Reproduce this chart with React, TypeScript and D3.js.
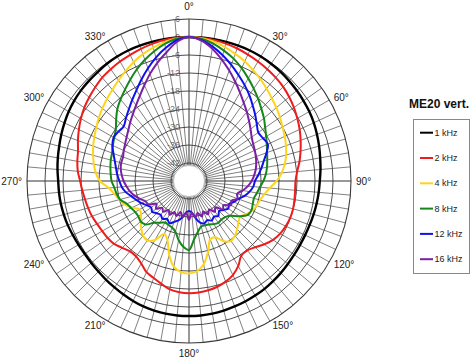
import React from 'react';
import * as d3 from 'd3';

const ANGLES = [0,5,10,15,20,25,30,35,40,45,50,55,60,65,70,75,80,85,90,95,100,105,110,115,120,125,130,135,140,145,150,155,160,165,170,175,180,185,190,195,200,205,210,215,220,225,230,235,240,245,250,255,260,265,270,275,280,285,290,295,300,305,310,315,320,325,330,335,340,345,350,355];

const khz1 = [0,0,0,0,0,0,-0.1,-0.3,-0.5,-0.8,-1.1,-1.4,-1.7,-2.1,-2.6,-3.1,-3.6,-4.0,-4.4,-4.6,-4.8,-5.0,-5.2,-5.3,-5.3,-5.2,-5.0,-4.7,-4.4,-4.1,-3.9,-3.7,-3.5,-3.3,-3.1,-3.0,-3.0,-3.0,-3.1,-3.3,-3.5,-3.9,-4.3,-4.7,-5.0,-5.3,-5.5,-5.6,-5.5,-5.3,-5.0,-4.8,-4.6,-4.5,-4.4,-4.0,-3.6,-3.2,-2.7,-2.2,-1.7,-1.3,-1.0,-0.8,-0.6,-0.3,-0.1,0,0,0,0,0];
const khz2 = [0,-0.1,-0.3,-0.6,-1.0,-1.5,-2.0,-2.5,-3.0,-3.6,-4.4,-5.3,-6.3,-7.3,-8.4,-9.5,-10.6,-11.8,-12.5,-12.5,-12.3,-12.1,-12.1,-12.4,-12.9,-13.8,-15.2,-16.8,-17.8,-17.6,-15.2,-13.4,-12.3,-11.5,-11.0,-10.7,-10.6,-10.8,-11.3,-12.5,-13.6,-14.5,-16.2,-17.3,-17.4,-16.5,-15.4,-14.9,-14.6,-14.2,-13.6,-13.2,-12.8,-12.3,-11.7,-10.8,-10.2,-9.7,-8.6,-7.5,-6.4,-5.4,-4.6,-3.8,-3.0,-2.5,-2.0,-1.6,-1.1,-0.7,-0.3,-0.1];
const khz4 = [0,-0.2,-0.8,-1.8,-2.9,-4.0,-5.3,-6.5,-7.8,-9.0,-10.0,-11.0,-12.0,-12.8,-13.6,-14.5,-15.6,-17.0,-18.8,-21.0,-22.5,-23.5,-24.0,-24.7,-26.0,-27.2,-26.5,-25.3,-24.2,-23.6,-24.8,-27.3,-27.3,-23.5,-19.8,-17.8,-17.2,-17.5,-19.0,-22.5,-27.0,-28.5,-25.3,-23.8,-24.2,-25.5,-27.0,-28.5,-29.0,-27.0,-25.2,-24.0,-22.8,-21.2,-18.3,-16.8,-15.8,-14.9,-14.0,-13.2,-12.3,-11.3,-10.3,-9.3,-8.3,-7.0,-5.7,-4.3,-3.0,-2.0,-1.0,-0.3];
const khz8 = [0,-0.4,-1.5,-3.0,-4.6,-6.5,-8.5,-10.4,-12.2,-13.9,-15.4,-17.0,-18.3,-19.4,-20.3,-21.0,-21.6,-22.3,-23.2,-24.3,-25.0,-25.6,-25.4,-25.0,-25.4,-27.5,-30.0,-31.0,-31.2,-31.0,-31.4,-32.0,-32.3,-32.3,-30.8,-28.5,-25.0,-26.0,-28.0,-30.5,-31.5,-31.8,-32.0,-31.0,-29.8,-27.5,-27.0,-27.4,-27.3,-26.7,-25.9,-24.2,-23.5,-23.0,-22.2,-21.8,-21.4,-21.0,-20.7,-20.0,-19.2,-18.2,-16.3,-14.2,-12.5,-10.8,-8.9,-6.9,-5.0,-3.2,-1.6,-0.4];
const khz12 = [0,-0.8,-2.5,-4.6,-6.8,-9.0,-11.0,-13.0,-15.0,-16.8,-18.5,-19.8,-19.5,-19.0,-20.5,-22.2,-23.5,-24.8,-26.0,-26.5,-27.5,-28.8,-30.5,-31.5,-32.6,-32.0,-33.0,-33.8,-32.8,-33.5,-32.8,-33.6,-33.0,-33.6,-35.5,-37.5,-38.0,-37.5,-35.8,-34.4,-33.5,-32.5,-33.4,-32.6,-33.3,-32.8,-32.0,-32.6,-31.8,-30.5,-29.4,-28.2,-26.6,-25.5,-24.8,-24.0,-23.3,-22.4,-21.2,-19.8,-19.0,-19.3,-19.6,-18.3,-16.8,-15.0,-13.0,-10.6,-8.0,-5.4,-3.0,-0.9];
const khz16 = [0,-1.0,-3.2,-6.0,-8.8,-11.5,-14.0,-16.2,-18.0,-19.7,-21.2,-22.5,-23.3,-23.8,-24.3,-24.8,-25.4,-26.2,-27.1,-28.3,-29.8,-31.4,-30.8,-32.4,-31.8,-34.0,-33.2,-35.6,-34.6,-36.4,-35.2,-36.8,-35.4,-37.0,-35.6,-37.4,-35.0,-37.4,-35.8,-37.3,-35.6,-36.6,-35.0,-36.2,-34.6,-35.4,-33.6,-34.8,-32.4,-32.0,-30.6,-29.2,-28.0,-27.1,-26.2,-25.5,-24.9,-24.6,-24.6,-24.0,-23.4,-22.6,-21.6,-20.3,-18.9,-17.2,-15.2,-12.8,-10.0,-7.2,-4.5,-1.5];

const SERIES_NAMES = ['1 kHz', '2 kHz', '4 kHz', '8 kHz', '12 kHz', '16 kHz'];
const SERIES_VALUES = [khz1, khz2, khz4, khz8, khz12, khz16];
const SERIES_COLORS = ['#000000', '#ee1c1c', '#ffd51a', '#15871a', '#1010ee', '#7a1fa6'];

const DB_RINGS = [6, 0, -6, -12, -18, -24, -30, -36, -42];
const DB_LABELS = ['6', '0', '-6', '-12', '-18', '-24', '-30', '-36', '-42'];
const ANGLE_TICKS = [0, 30, 60, 90, 120, 150, 180, 210, 240, 270, 300, 330];
const TITLE = 'ME20 vert.';

const W = 475, H = 360;
const cx = 189, cy = 181;
const R_OUT = 162;
const HOLE = 15.5;
const FONT = 'Arial, "Liberation Sans", sans-serif';

export default function App() {
  const r = d3.scaleLinear().domain([-48, 6]).range([0, R_OUT]);
  const a = d3.scaleLinear().domain([0, 360]).range([0, 2 * Math.PI]);
  const spokes = d3.range(0, 360, 5);

  const line = d3.lineRadial<number>()
    .curve(d3.curveCatmullRomClosed.alpha(0.5));

  const pol = (deg: number, rad: number) => {
    const t = a(deg);
    return [cx + rad * Math.sin(t), cy - rad * Math.cos(t)];
  };

  return (
    <svg width={W} height={H} style={{ position: 'absolute', left: 0, top: 0, background: '#fff' }}
      fontFamily={FONT}>
      <rect x={0} y={0} width={W} height={H} fill="#fff" />
      {/* spokes */}
      <g stroke="#4a4a4a" strokeWidth={0.7}>
        {spokes.map(d => {
          const [x1, y1] = pol(d, HOLE);
          const [x2, y2] = pol(d, R_OUT);
          return <line key={d} x1={x1} y1={y1} x2={x2} y2={y2}
            strokeWidth={d % 90 === 0 ? 1 : 0.7} stroke={d % 90 === 0 ? '#333' : '#4a4a4a'} />;
        })}
      </g>
      {/* rings */}
      <g fill="none" stroke="#3a3a3a">
        {DB_RINGS.map(db => (
          <circle key={db} cx={cx} cy={cy} r={r(db)} strokeWidth={db === 6 ? 1.1 : 0.9} />
        ))}
      </g>
      <circle cx={cx} cy={cy} r={HOLE} fill="#fff" stroke="#999" strokeWidth={0.5} />
      {/* scale labels */}
      <g fontSize={9} fill="#555" textAnchor="end">
        {DB_RINGS.map((db, i) => (
          <text key={db} x={180} y={cy - r(db)} dy="0.35em" opacity={0.85}>{DB_LABELS[i]}</text>
        ))}
      </g>
      {/* angle labels */}
      <g fontSize={10} fill="#222">
        {ANGLE_TICKS.map(d => {
          const t = a(d);
          const s = Math.sin(t);
          const c = Math.cos(t);
          let anchor = 'middle';
          if (s > 0.1) anchor = 'start';
          if (s < -0.1) anchor = 'end';
          let x = cx + 167 * s;
          let y = cy - 167 * c + 3.5;
          if (d === 0) { y = cy - 171; }
          if (d === 180) { y = cy + 176; }
          return <text key={d} x={x} y={y} textAnchor={anchor}>{d}°</text>;
        })}
      </g>
      {/* curves */}
      <g fill="none" strokeLinejoin="round">
        {SERIES_VALUES.map((vals, i) => {
          const pts = vals.map((v, j) => [a(ANGLES[j]), r(v)] as [number, number]);
          const path = d3.lineRadial<[number, number]>()
            .angle(p => p[0]).radius(p => p[1])
            .curve(d3.curveCatmullRomClosed.alpha(0.5))(pts);
          return <path key={i} d={path || ''} transform={`translate(${cx},${cy})`}
            stroke={SERIES_COLORS[i]} strokeWidth={i === 0 ? 2.4 : 2} />;
        })}
      </g>
      {/* legend */}
      <text x={409} y={108} fontSize={12} fontWeight="bold" fill="#111">{TITLE}</text>
      <rect x={413.5} y={119.5} width={56} height={154} fill="#fff" stroke="#888" strokeWidth={1} />
      <g fontSize={9} fill="#222">
        {SERIES_NAMES.map((n, i) => {
          const y = 132.7 + i * 25.3;
          return (
            <g key={n}>
              <line x1={420} x2={433} y1={y} y2={y} stroke={SERIES_COLORS[i]} strokeWidth={2} />
              <text x={434.5} y={y} dy="0.35em">{n}</text>
            </g>
          );
        })}
      </g>
    </svg>
  );
}
